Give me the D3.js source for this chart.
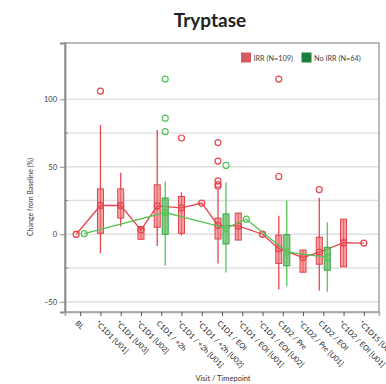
<!DOCTYPE html>
<html><head><meta charset="utf-8">
<script src="https://cdn.jsdelivr.net/npm/d3@7"></script>
<style>html,body{margin:0;padding:0;background:#fff;}svg{display:block;font-family:Lato,"Open Sans",sans-serif;}</style>
</head><body><svg id="c" width="386" height="384"></svg>
<script>
const categories = ["BL","*C1D1 [U01]","*C1D1 [U03]","*C1D1 [U02]","C1D1 / +2h","*C1D1 / +2h [U01]","*C1D1 / +2h [U02]","C1D1 / EOI","*C1D1 / EOI [U01]","*C1D1 / EOI [U02]","C1D2 / Pre","*C1D2 / Pre [U01]","C1D2 / EOI","*C1D2 / EOI [U01]","*C1D15 [U01]"];
const yTicks = [-50, 0, 50, 100];
const yGrid = [-50, -25, 0, 25, 50, 75, 100];
const seriesNames = ["IRR (N=109)", "No IRR (N=64)"];

const irrMean = [0, 21.3, 21.3, 3.2, 21, 19.6, 23.1, 6.6, 6.2, 0, -10.7, -17.2, -13.2, -6.3, -6.5];
const irrQ1   = [null, 0.7, 12, -3.7, 5.2, 0.7, null, -3.5, -4.3, null, -21.6, -28.1, -22.2, -24.1, null];
const irrQ3   = [null, 33.6, 33.6, 5.7, 36.6, 28, null, 12, 15.7, null, -0.7, -11.7, -2.2, 11.2, null];
const irrLow  = [null, -14, 5.7, -4, -8.7, -1, null, -21.6, -4.3, null, -41, -28.1, -41.6, -24.1, null];
const irrHigh = [null, 81, 45.5, 6, 77.3, 31, null, 33, 15.7, null, 13.7, -11.7, 27, 11.2, null];
const irrOut  = [[], [106], [], [], [], [71.3], [], [67.9, 54.2, 39.6, 36.8, 35.5], [], [], [115, 42.8], [], [33.1], [], []];

const noMean = [0.5, null, null, null, 16.1, null, null, 4.5, 11.2, null, -13, null, -17.2, null, null];
const noQ1   = [null, null, null, null, 0, null, null, -7.2, null, null, -23.4, null, -26.6, null, null];
const noQ3   = [null, null, null, null, 26.9, null, null, 15.1, null, null, -0.3, null, -9.7, null, null];
const noLow  = [null, null, null, null, -23.4, null, null, -28.4, null, null, -38.6, null, -42.6, null, null];
const noHigh = [null, null, null, null, 39, null, null, 38.5, null, null, 25, null, 8.7, null, null];
const noOut  = [[], [], [], [], [115, 86, 76], [], [], [51], [], [], [], [], [], [], []];

const svg = d3.select("#c");
const L = 65, R = 379, T = 43, B = 312;
const x = d3.scalePoint().domain(categories).range([L, R]).padding(0.75);
const y = d3.scaleLinear().domain([-57.6, 141.7]).range([B, T]);

const redLine = "#e8464e", redFill = "rgba(238,118,122,0.65)", redLeg = "#d65a5e";
const grnLine = "#58c458", grnDark = "#38a446", grnFill = "rgba(102,190,102,0.75)", grnLeg = "#17803a";

// title
svg.append("text").attr("x", 210).attr("y", 26.5).attr("text-anchor", "middle")
  .attr("font-size", 19).attr("font-weight", "bold").attr("fill", "#222").text("Tryptase");

// grid
svg.append("g").selectAll("line").data(yGrid).join("line")
  .attr("x1", L).attr("x2", R).attr("y1", d => y(d)).attr("y2", d => y(d))
  .attr("stroke", "#e0e0e0").attr("stroke-width", 1.3);

// frame
svg.append("rect").attr("x", L).attr("y", T).attr("width", R - L).attr("height", B - T)
  .attr("fill", "none").attr("stroke", "#a8a8a8").attr("stroke-width", 1.6);

// y axis
const ya = svg.append("g").attr("transform", `translate(${L},0)`)
  .call(d3.axisLeft(y).tickValues(yTicks).tickSize(5).tickPadding(3));
ya.select(".domain").attr("stroke", "#8c8c8c").attr("stroke-width", 1.8);
ya.selectAll(".tick line").attr("stroke", "#8c8c8c");
ya.selectAll(".tick text").attr("font-size", 7.5).attr("fill", "#333a48").attr("font-family", "Lato, sans-serif");
svg.append("g").selectAll("line").data([-25, 25, 75]).join("line")
  .attr("x1", L - 1).attr("x2", L + 3).attr("y1", d => y(d)).attr("y2", d => y(d))
  .attr("stroke", "#8c8c8c");
svg.append("text").attr("transform", "translate(33,197) rotate(-90)").attr("text-anchor", "middle")
  .attr("font-size", 7).attr("fill", "#333a48").text("Change from Baseline (%)");

// x axis
const xa = svg.append("g").attr("transform", `translate(0,${B})`)
  .call(d3.axisBottom(x).tickSize(4).tickPadding(0));
xa.select(".domain").attr("stroke", "#a8a8a8").attr("stroke-width", 1.6);
xa.selectAll(".tick line").attr("stroke", "#555");
xa.selectAll(".tick text").attr("font-size", 7.4).attr("fill", "#222").attr("font-family", "Lato, sans-serif")
  .attr("text-anchor", "start").attr("dy", 0)
  .attr("transform", "translate(-3,9) rotate(45)");
svg.append("text").attr("x", 223).attr("y", 381).attr("text-anchor", "middle")
  .attr("font-size", 7.5).attr("fill", "#333").text("Visit / Timepoint");

// legend
const leg = svg.append("g");
[[241, redLeg, seriesNames[0]], [301.5, grnLeg, seriesNames[1]]].forEach(([lx, col, txt]) => {
  leg.append("rect").attr("x", lx).attr("y", 52.5).attr("width", 10).attr("height", 10).attr("fill", col);
  leg.append("text").attr("x", lx + 12.5).attr("y", 60.5).attr("font-size", 7.3).attr("fill", "#444").text(txt);
});

function both(i) { return irrMean[i] != null && noMean[i] != null; }
function xr(i) { return x(categories[i]) + (both(i) ? -4 : 0); }
function xg(i) { return x(categories[i]) + (both(i) ? 4 : 0); }

function drawSeries(mean, q1, q3, lo, hi, outs, xf, line, fill, boxStroke) {
  const g = svg.append("g");
  const idx = d3.range(categories.length);
  idx.filter(i => lo[i] != null).forEach(i => {
    g.append("line").attr("x1", xf(i)).attr("x2", xf(i)).attr("y1", y(hi[i])).attr("y2", y(lo[i]))
      .attr("stroke", line).attr("stroke-width", 1.3);
  });
  idx.filter(i => q1[i] != null).forEach(i => {
    g.append("rect").attr("x", xf(i) - 3).attr("width", 6)
      .attr("y", y(q3[i])).attr("height", y(q1[i]) - y(q3[i]))
      .attr("fill", fill).attr("stroke", boxStroke).attr("stroke-width", 1);
  });
  const pts = idx.filter(i => mean[i] != null);
  g.append("path").attr("d", d3.line().x(i => xf(i)).y(i => y(mean[i]))(pts))
    .attr("fill", "none").attr("stroke", line).attr("stroke-width", 1.3);
  g.selectAll("circle.m").data(pts).join("circle").attr("class", "m")
    .attr("cx", i => xf(i)).attr("cy", i => y(mean[i])).attr("r", 3)
    .attr("fill", "none").attr("stroke", line).attr("stroke-width", 1.3);
  idx.forEach(i => outs[i].forEach(v => {
    g.append("circle").attr("cx", xf(i)).attr("cy", y(v)).attr("r", 3)
      .attr("fill", "none").attr("stroke", line).attr("stroke-width", 1.2);
  }));
}

drawSeries(irrMean, irrQ1, irrQ3, irrLow, irrHigh, irrOut, xr, redLine, redFill, "#e0404a");
drawSeries(noMean, noQ1, noQ3, noLow, noHigh, noOut, xg, grnLine, grnFill, grnDark);
</script></body></html>
